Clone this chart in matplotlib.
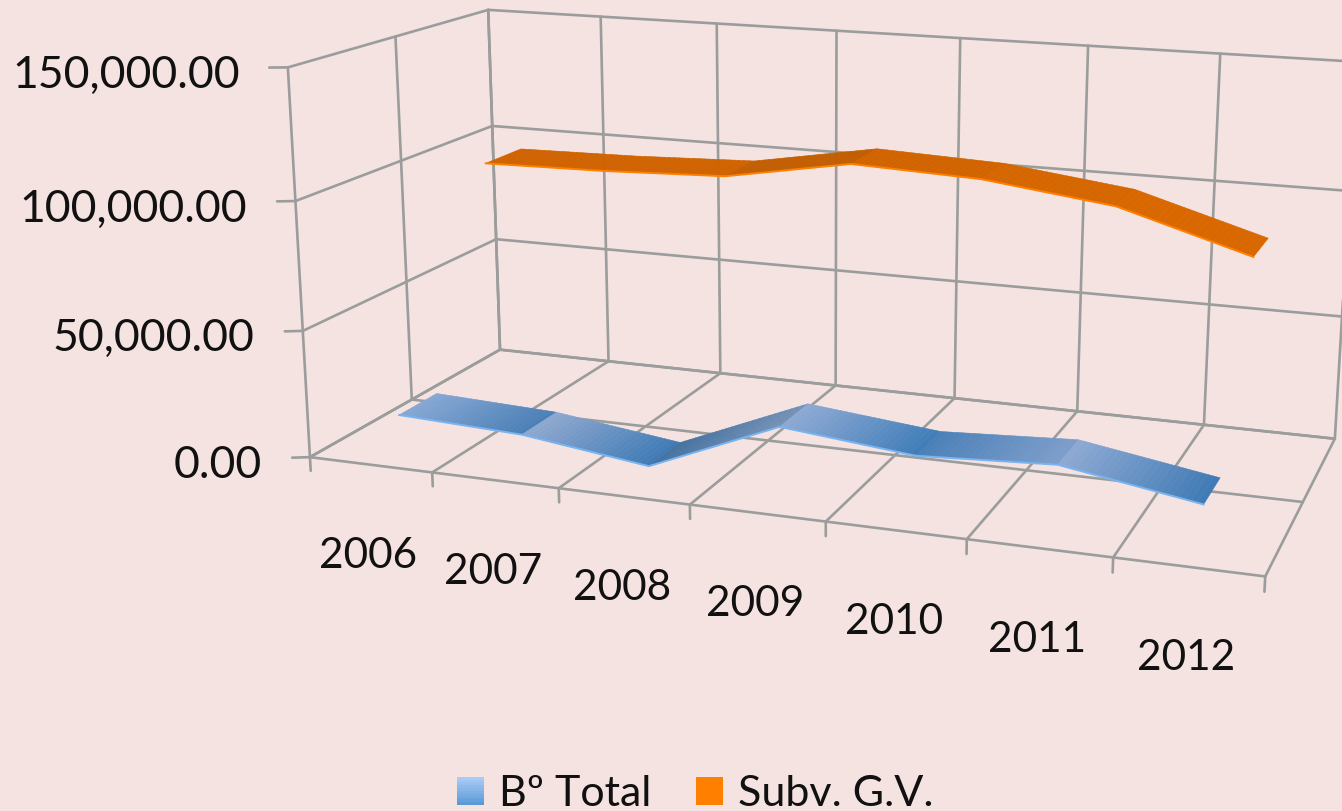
import numpy as np
import matplotlib
matplotlib.use("Agg")
import matplotlib.pyplot as plt
from matplotlib.colors import to_rgb
from matplotlib.legend_handler import HandlerBase
from matplotlib.patches import Patch, Rectangle
from mpl_toolkits.mplot3d import proj3d
from mpl_toolkits.mplot3d.art3d import Poly3DCollection

plt.rcParams['font.family'] = ['Lato', 'DejaVu Sans']

# ========================
# Data
# ========================
years = ["2006", "2007", "2008", "2009", "2010", "2011", "2012"]
total = [12900, 10800, 4300, 25500, 20400, 23100, 14700]
subv = [96600, 97400, 99200, 108000, 106000, 99700, 84800]
z_ticks = [0, 50000, 100000, 150000]
z_labels = ["0.00", "50,000.00", "100,000.00", "150,000.00"]
names = ["Bº Total", "Subv. G.V."]

# ========================
# Style
# ========================
BG = "#F5E3E2"
GRID = "#9A9D9B"
TEXT = "#111111"
ZMAX = 150000.0
W, H = 1342, 811

# light/dark ends of each ribbon segment
blue_shades = [("#86A8D4", "#4A7FB6"), ("#8FA9D0", "#3F7AB5"), ("#44719F", "#7593B8"),
               ("#8FAAD4", "#3F7DB8"), ("#4B80B8", "#7E9FCB"), ("#8FAAD4", "#3F7AB4")]
orange_shades = [("#D06300", "#D06300"), ("#D06300", "#D06300"), ("#C25E00", "#C25E00"),
                 ("#D26400", "#D26400"), ("#D66600", "#D66600"), ("#D96800", "#D96800")]


# ========================
# Camera: Excel style perspective, fitted on the corners of the box
# ========================
def camera():
    corners = [((0, 0, 0), (310, 457)), ((7, 0, 0), (1265, 577)), ((0, 1, 0), (500, 350)),
               ((7, 1, 0), (1335, 438)), ((0, 0, 1), (288, 67)), ((0, 1, 1), (488, 10)),
               ((7, 1, 1), (1357, 62))]
    A = []
    for (x, y, z), (u, v) in corners:
        A.append([x, y, z, 1, 0, 0, 0, 0, -u * x, -u * y, -u * z, -u])
        A.append([0, 0, 0, 0, x, y, z, 1, -v * x, -v * y, -v * z, -v])
    P = np.linalg.svd(np.array(A, float))[2][-1].reshape(3, 4)
    P = P / P[2, 3]
    P[:, 2] = P[:, 2] / ZMAX
    return np.vstack([P[0], P[1], [0, 1, 0, 0], P[2]])


fig = plt.figure(figsize=(W / 100, H / 100), dpi=100, facecolor=BG)
# mplot3d keeps its axes square, so the square is wider than the figure is tall
ax = fig.add_axes([0, (H - W) / 2 / H, 1, W / H], projection="3d", proj_type="ortho",
                  computed_zorder=False)
ax.set_facecolor(BG)
ax.set_axis_off()
M = camera()
ax.get_proj = lambda: M
ax.viewLim.intervalx = (0, W)
ax.viewLim.intervaly = (H + (W - H) / 2, -(W - H) / 2)


def grid(xs, ys, zs, lw=1.9):
    ax.plot(xs, ys, zs, color=GRID, lw=lw, zorder=1, solid_capstyle="round")


def label(x, y, z, text, du, dv, size, ha):
    # placed in the plane of the picture, so it stays upright
    u, v, _ = proj3d.proj_transform(x, y, z, M)
    ax.text2D(u + du, v + dv, text, transform=ax.transData, fontsize=size, ha=ha, va="center", color=TEXT)


# ========================
# Box
# ========================
n = len(years)
for z in z_ticks:
    grid([0, 0], [0, 1], [z, z])
    grid([0, n], [1, 1], [z, z])
    # tick to the left of the wall
    grid([0, -0.115], [0, -0.018], [z, z])
for y in [0, 0.5, 1]:
    grid([0, 0], [y, y], [0, ZMAX])
    grid([0, n], [y, y], [0, 0])
for i in range(n + 1):
    grid([i, i], [0, 1], [0, 0])
    grid([i, i], [1, 1], [0, ZMAX])
    grid([i, i], [0, 0], [0, -5500])


# ========================
# Ribbons
# ========================
def ribbon(values, y0, y1, shades, edge, order):
    for i in range(len(values) - 1):
        c0, c1 = np.array(to_rgb(shades[i][0])), np.array(to_rgb(shades[i][1]))
        steps = 24
        polys, cols = [], []
        for k in range(steps):
            a, b = k / steps, (k + 1) / steps
            xa, xb = i + 0.5 + a, i + 0.5 + b
            za = values[i] + (values[i + 1] - values[i]) * a
            zb = values[i] + (values[i + 1] - values[i]) * b
            polys.append([(xa, y0, za), (xb, y0, zb), (xb, y1, zb), (xa, y1, za)])
            cols.append(c0 + (c1 - c0) * (a + b) / 2)
        ax.add_collection3d(Poly3DCollection(polys, facecolors=cols, edgecolors=cols,
                                             linewidths=0.4, zorder=order))
    xs = np.arange(len(values)) + 0.5
    ax.plot(xs, [y0] * len(values), values, color=edge, lw=1.4, zorder=order + 1,
            solid_joinstyle="round")


ribbon(subv, 0.64, 0.84, orange_shades, "#FF8000", 3)
ribbon(total, 0.145, 0.335, blue_shades, "#78B4F2", 5)

# ========================
# Text
# ========================
for i, year in enumerate(years):
    label(i + 0.5, 0, 0, year, -2, 91.5, 30.5, "center")
for z, text in zip(z_ticks, z_labels):
    label(0, 0, z, text, -48, 8, 32, "right")


class GradientHandler(HandlerBase):
    def create_artists(self, legend, orig_handle, xdescent, ydescent, width, height, fontsize, trans):
        out = []
        top, bottom = np.array(to_rgb("#A9CCF7")), np.array(to_rgb("#5C9AD6"))
        for k in range(10):
            c = top + (bottom - top) * k / 9
            out.append(Rectangle((-xdescent, -ydescent + height * (9 - k) / 10), width, height / 10 + 0.3,
                                 facecolor=c, edgecolor="none", transform=trans))
        return out


handles = [Patch(label=names[0]), Patch(facecolor="#FF8000", label=names[1])]
fig.legend(handles=handles, loc="lower left", bbox_to_anchor=(457 / W, -0.003), ncol=2, frameon=False,
           fontsize=31, handlelength=0.63, handleheight=0.63, handletextpad=0.34, columnspacing=1.05,
           borderpad=0, borderaxespad=0, labelcolor=TEXT, handler_map={handles[0]: GradientHandler()})

fig.savefig("out.png", dpi=100, facecolor=BG)
